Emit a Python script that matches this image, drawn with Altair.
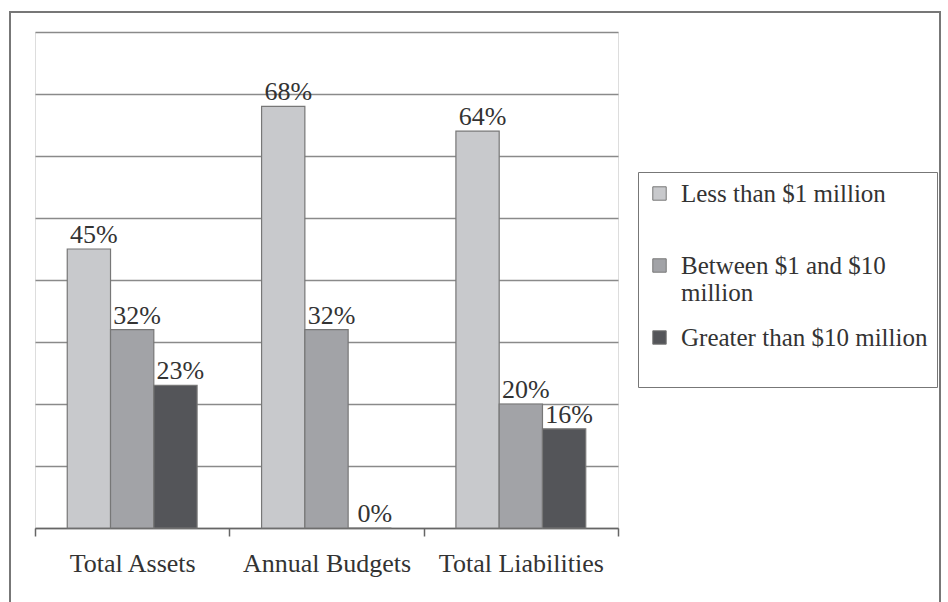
import altair as alt
import pandas as pd

categories = ["Total Assets", "Annual Budgets", "Total Liabilities"]
series = ["Less than $1 million", "Between $1 and $10 million", "Greater than $10 million"]
less_1m = [45, 68, 64]
between_1_10m = [32, 32, 20]
greater_10m = [23, 0, 16]
colors = ["#c8c9cc", "#a2a3a7", "#545559"]

rows = []
for i, c in enumerate(categories):
    for s, vals in zip(series, [less_1m, between_1_10m, greater_10m]):
        rows.append({"category": c, "series": s, "value": vals[i], "label": f"{vals[i]}%"})
df = pd.DataFrame(rows)

W, H = 583, 496
FONT = "Liberation Serif"

x = alt.X("category:N", sort=categories, title=None,
          scale=alt.Scale(paddingInner=0, paddingOuter=0),
          axis=alt.Axis(labelAngle=0, labelFont=FONT, labelFontSize=26, labelColor="#333",
                        tickBand="extent", tickSize=8, tickColor="#666", tickWidth=1.5,
                        domainColor="#666", domainWidth=1.5, labelPadding=14, grid=False))
xo = alt.XOffset("series:N", sort=series, scale=alt.Scale(paddingInner=0, paddingOuter=0.745))
y = alt.Y("value:Q", scale=alt.Scale(domain=[0, 80]), title=None,
          axis=alt.Axis(values=list(range(0, 81, 10)), labels=False, ticks=False, domain=False,
                        grid=True, gridColor="#8a8a8a", gridWidth=1.5))

label_expr = (
    "datum.label == 'Between $1 and $10 million' ? ['Between $1 and $10', 'million'] : "
    "datum.label == 'Less than $1 million' ? ['Less than $1 million', ''] : "
    "[datum.label, '']"
)

bars = alt.Chart(df).mark_bar(stroke="#777", strokeWidth=1.2).encode(
    x=x, xOffset=xo, y=y,
    color=alt.Color("series:N", sort=series,
                    scale=alt.Scale(domain=series, range=colors),
                    legend=alt.Legend(
                        title=None, orient="none", legendX=603, legendY=140,
                        labelFont=FONT, labelFontSize=25, labelColor="#333", labelLimit=400,
                        labelExpr=label_expr,
                        symbolType="square", symbolSize=180, symbolStrokeColor="#777",
                        symbolStrokeWidth=1, rowPadding=19,
                        strokeColor="#777", fillColor="white", padding=9,
                        labelOffset=9, symbolOffset=0)),
)

text = alt.Chart(df).mark_text(font=FONT, fontSize=26, color="#333", baseline="alphabetic", dy=-6, dx=5).encode(
    x=alt.X("category:N", sort=categories), xOffset=alt.XOffset("series:N", sort=series),
    y="value:Q", text="label:N",
)

frame = alt.Chart(pd.DataFrame({"a": [0]})).mark_rect(fill=None, stroke="#777", strokeWidth=2).encode(
    x=alt.value(-25), x2=alt.value(W + 322), y=alt.value(-20), y2=alt.value(H + 100)
)

chart = alt.layer(frame, bars, text).properties(
    width=W, height=H,
    padding={"left": 35, "top": 32, "right": 330, "bottom": 74},
    autosize=alt.AutoSizeParams(type="none"),
).configure_view(stroke="#8a8a8a", strokeWidth=1.5).configure(background="white")

chart.save("out.html", embed_options={"renderer": "svg", "actions": False})
